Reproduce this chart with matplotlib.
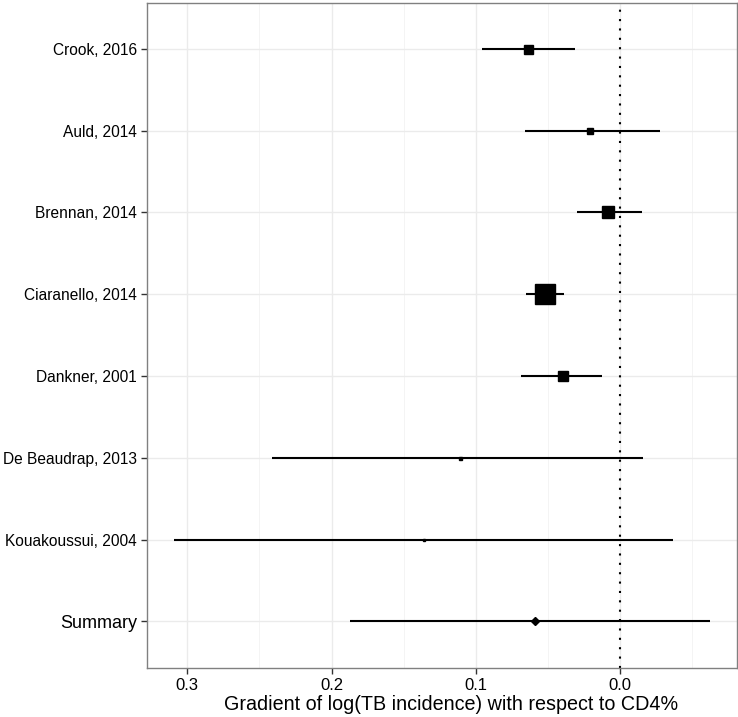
import numpy as np
import matplotlib.pyplot as plt
from matplotlib.ticker import MultipleLocator

plt.rcParams["font.family"] = ["Liberation Sans", "DejaVu Sans"]

# studies, top to bottom
studies = ["Crook, 2016", "Auld, 2014", "Brennan, 2014", "Ciaranello, 2014",
           "Dankner, 2001", "De Beaudrap, 2013", "Kouakoussui, 2004"]
estimate = [0.0635, 0.0208, 0.0081, 0.0518, 0.0393, 0.111, 0.136]
lower = [0.0310, -0.0277, -0.0155, 0.0388, 0.0123, -0.0159, -0.037]
upper = [0.0960, 0.0658, 0.0296, 0.0651, 0.0684, 0.241, 0.309]
weights = [9, 6.7, 12.7, 20, 10.7, 3, 2.5]  # relative study weight (square side)

summary_est = 0.059
summary_lo = -0.0624
summary_hi = 0.187

fig = plt.figure(figsize=(7.38, 7.17), dpi=100)
ax = fig.add_axes([0.199, 0.0683, 0.7996, 0.9275])

n = len(studies)
ypos = np.arange(n + 1)[::-1]  # summary at bottom (0)

for i in range(n):
    y = ypos[i]
    ax.plot([lower[i], upper[i]], [y, y], color="black", lw=1.5,
            solid_capstyle="butt", zorder=3)
    ax.plot(estimate[i], y, marker="s", color="black",
            markersize=weights[i] * 0.72, zorder=4)

ax.plot([summary_lo, summary_hi], [0, 0], color="black", lw=1.5,
        solid_capstyle="butt", zorder=3)
ax.plot(summary_est, 0, marker="D", color="black", markersize=3.6, zorder=4)

ax.axvline(0, color="black", lw=1.5, ls=(0, (1, 3.5)), zorder=2)

ax.set_xlim(0.328, -0.081)
ax.set_ylim(-0.57, n + 0.56)

ax.xaxis.set_major_locator(MultipleLocator(0.1))
ax.xaxis.set_minor_locator(MultipleLocator(0.05))
ax.set_xticks([0.3, 0.2, 0.1, 0.0])
ax.set_xticklabels(["0.3", "0.2", "0.1", "0.0"])
ax.set_yticks(ypos)
ax.set_yticklabels(studies + ["Summary"])
for lab in ax.get_yticklabels():
    lab.set_fontsize(13 if lab.get_text() == "Summary" else 11.2)

ax.grid(True, which="major", color="#EBEBEB", lw=1.0, zorder=0)
ax.grid(True, which="minor", axis="x", color="#F2F2F2", lw=0.6, zorder=0)
ax.set_axisbelow(True)

for sp in ax.spines.values():
    sp.set_color("#808080")
    sp.set_linewidth(1.0)

ax.tick_params(axis="both", which="major", length=4, width=1, color="#333333",
               labelcolor="black", pad=3)
ax.tick_params(axis="x", labelsize=12, pad=3.5)
ax.tick_params(axis="x", which="minor", length=0)

ax.set_xlabel("Gradient of log(TB incidence) with respect to CD4%",
              fontsize=14.2)
ax.xaxis.set_label_coords(0.515, -0.040)

fig.savefig("out.png", dpi=100)
